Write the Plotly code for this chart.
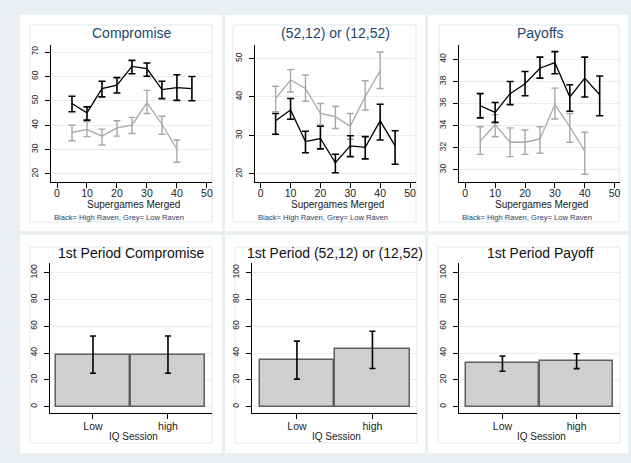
import plotly.graph_objects as go

W, H = 631, 463

# supergame bins
sg_high = [5, 10, 15, 20, 25, 30, 35, 40, 45]
sg_low = [5, 10, 15, 20, 25, 30, 35, 40]

# Compromise
comp_hi_mean = [48.9, 45.1, 55.0, 56.4, 64.1, 63.2, 54.6, 55.4, 55.0]
comp_hi_lo = [45.5, 42.1, 51.6, 53.2, 61.1, 60.1, 50.9, 50.2, 50.0]
comp_hi_up = [51.9, 47.5, 58.0, 59.5, 66.6, 65.5, 58.0, 60.7, 60.0]
comp_lo_mean = [37.0, 38.3, 35.5, 38.9, 40.0, 49.2, 40.4, 30.2]
comp_lo_lo = [33.6, 35.3, 31.9, 35.5, 36.6, 44.8, 36.3, 24.8]
comp_lo_up = [40.0, 41.4, 38.4, 41.8, 43.2, 54.3, 43.7, 33.9]

# (52,12) or (12,52)
spl_hi_mean = [33.8, 36.6, 28.4, 29.2, 22.9, 27.3, 26.9, 33.8, 27.3]
spl_hi_lo = [30.3, 34.2, 25.5, 26.5, 20.3, 24.5, 23.9, 28.8, 22.5]
spl_hi_up = [35.7, 39.6, 31.1, 32.4, 25.1, 29.9, 29.7, 38.1, 31.2]
spl_lo_mean = [39.6, 44.4, 42.2, 35.7, 34.9, 32.4, 40.1, 46.8]
spl_lo_lo = [36.2, 41.3, 38.9, 32.7, 31.8, 29.0, 36.6, 42.2]
spl_lo_up = [42.8, 47.1, 45.7, 38.3, 37.6, 35.7, 44.2, 51.7]

# Payoffs
pay_hi_mean = [35.8, 35.2, 36.9, 37.8, 39.2, 39.7, 36.6, 38.3, 36.8]
pay_hi_lo = [34.7, 34.3, 35.9, 36.7, 38.3, 38.7, 35.3, 36.6, 34.9]
pay_hi_up = [36.9, 36.1, 38.0, 38.9, 40.2, 40.7, 37.7, 40.2, 38.5]
pay_lo_mean = [32.6, 34.1, 32.5, 32.5, 32.8, 35.9, 33.9, 31.7]
pay_lo_lo = [31.4, 33.0, 31.2, 31.4, 31.5, 34.6, 32.5, 29.6]
pay_lo_up = [33.9, 35.0, 33.8, 33.6, 33.9, 37.4, 35.1, 33.4]

# first period bars
iq = ["Low", "high"]
first_comp = [38.6, 38.6]
first_comp_lo = [24.9, 24.9]
first_comp_up = [52.7, 52.7]
first_spl = [34.7, 42.7]
first_spl_lo = [20.6, 28.5]
first_spl_up = [48.9, 56.3]
first_pay = [32.6, 33.8]
first_pay_lo = [26.4, 28.4]
first_pay_up = [37.8, 39.5]

FONT = "Liberation Sans, Arial, sans-serif"
BLUE = "#1a476f"
TXT = "#222222"
GRID = "#e4edef"
BG = "#eaf0f2"


def fx(px):
    return px / W


def fy(py):
    return 1 - py / H


def err(mean, lo, up):
    return dict(type="data", symmetric=False,
                array=[u - m for u, m in zip(up, mean)],
                arrayminus=[m - l for m, l in zip(mean, lo)])


fig = go.Figure()

line_panels = [
    # (axis suffix, hi series, lo series, title, x px, x range, y range, y ticks)
    ("", (comp_hi_mean, comp_hi_lo, comp_hi_up), (comp_lo_mean, comp_lo_lo, comp_lo_up),
     "Compromise", (51, 212), [-2.0, 51.7], [16.7, 72.9], list(range(20, 71, 10))),
    ("2", (spl_hi_mean, spl_hi_lo, spl_hi_up), (spl_lo_mean, spl_lo_lo, spl_lo_up),
     "(52,12) or (12,52)", (255, 416), [-1.9, 52.0], [17.9, 53.5], list(range(20, 51, 10))),
    ("3", (pay_hi_mean, pay_hi_lo, pay_hi_up), (pay_lo_mean, pay_lo_lo, pay_lo_up),
     "Payoffs", (459, 620), [-2.1, 51.8], [28.9, 41.3], list(range(30, 41, 2))),
]

bar_panels = [
    ("4", (first_comp, first_comp_lo, first_comp_up), "1st Period Compromise",
     (50, 212), [-0.573, 1.587]),
    ("5", (first_spl, first_spl_lo, first_spl_up), "1st Period (52,12) or (12,52)",
     (252, 417), [-0.595, 1.59]),
    ("6", (first_pay, first_pay_lo, first_pay_up), "1st Period Payoff",
     (459, 620), [-0.586, 1.585]),
]

annotations = []
shapes = []

# panel backgrounds
cols = [(20, 222), (225, 425), (428, 628)]
rows = [(15, 231), (235, 453)]
for (y0, y1) in rows:
    for (x0, x1) in cols:
        shapes.append(dict(type="rect", xref="paper", yref="paper",
                           x0=fx(x0), x1=fx(x1), y0=fy(y1), y1=fy(y0),
                           fillcolor="white", line=dict(width=0), layer="below"))
inner = [(30, 25, 212, 222), (233, 25, 416, 222), (439, 25, 619, 222),
         (30, 247, 212, 443), (235, 247, 417, 443), (438, 247, 620, 443)]
for (x0, y0, x1, y1) in inner:
    shapes.append(dict(type="rect", xref="paper", yref="paper",
                       x0=fx(x0), x1=fx(x1), y0=fy(y1), y1=fy(y0),
                       fillcolor="rgba(0,0,0,0)", line=dict(width=1, color="#dfe9eb"),
                       layer="below"))

axis_common = dict(showline=True, linecolor="black", linewidth=1.2, ticks="outside",
                   ticklen=5, tickwidth=1, tickcolor="black", zeroline=False,
                   tickfont=dict(family=FONT, size=10.5, color=TXT))
yfont = dict(family=FONT, size=8.5, color=TXT)

for suf, hi, lo, title, (xa, xb), xr, yr, yt in line_panels:
    xname, yname = "x" + suf, "y" + suf
    fig.add_trace(go.Scatter(x=sg_low, y=lo[0], mode="lines", xaxis=xname, yaxis=yname,
                             line=dict(color="#a8a8a8", width=1.3),
                             error_y=dict(err(*lo), color="#a8a8a8", thickness=1.4, width=3.5),
                             showlegend=False))
    fig.add_trace(go.Scatter(x=sg_high, y=hi[0], mode="lines", xaxis=xname, yaxis=yname,
                             line=dict(color="black", width=1.3),
                             error_y=dict(err(*hi), color="black", thickness=1.6, width=3.5),
                             showlegend=False))
    fig.layout["xaxis" + suf] = dict(axis_common, domain=[fx(xa), fx(xb)], range=xr,
                                    anchor=yname, tickvals=[0, 10, 20, 30, 40, 50],
                                    ticklabelstandoff=-4, showgrid=False)
    fig.layout["yaxis" + suf] = dict(axis_common, domain=[fy(182), fy(45)], range=yr,
                                    anchor=xname, tickvals=yt, tickangle=-90,
                                    ticklabelstandoff=4,
                                    showgrid=True, gridcolor=GRID, gridwidth=1,
                                    tickfont=yfont)
    cx = (xa + xb) / 2
    annotations.append(dict(text=title, x=fx(cx), y=fy(33), xref="paper", yref="paper",
                            showarrow=False, xanchor="center", yanchor="middle",
                            font=dict(family=FONT, size=14, color=BLUE)))
    annotations.append(dict(text="Supergames Merged", x=fx(cx + 2), y=fy(204.5),
                            xref="paper", yref="paper", showarrow=False,
                            xanchor="center", yanchor="middle",
                            font=dict(family=FONT, size=10, color=TXT)))
    annotations.append(dict(text="Black= High Raven, Grey= Low Raven", x=fx(xa + 1),
                            y=fy(217.5), xref="paper", yref="paper", showarrow=False,
                            xanchor="left", yanchor="middle",
                            font=dict(family=FONT, size=7.6, color="#2b3a66")))

for suf, (vals, lo, up), title, (xa, xb), xr in bar_panels:
    xname, yname = "x" + suf, "y" + suf
    fig.add_trace(go.Bar(x=[0, 1], y=vals, width=0.985, xaxis=xname, yaxis=yname,
                         marker=dict(color="#cfcfcf", line=dict(color="#5f5f5f", width=1.5)),
                         error_y=dict(err(vals, lo, up), color="black", thickness=1.6, width=3),
                         showlegend=False))
    fig.layout["xaxis" + suf] = dict(axis_common, domain=[fx(xa), fx(xb)], range=xr,
                                    anchor=yname, tickvals=[0, 1], ticktext=iq,
                                    ticklabelstandoff=-2, showgrid=False)
    fig.layout["yaxis" + suf] = dict(axis_common, domain=[fy(413), fy(263)],
                                    range=[-4.7, 107.2], anchor=xname,
                                    tickvals=[0, 20, 40, 60, 80, 100], tickangle=-90,
                                    ticklabelstandoff=4,
                                    showgrid=True, gridcolor=GRID, gridwidth=1,
                                    tickfont=yfont)
    cx = (xa + xb) / 2
    annotations.append(dict(text=title, x=fx(cx), y=fy(253), xref="paper", yref="paper",
                            showarrow=False, xanchor="center", yanchor="middle",
                            font=dict(family=FONT, size=14, color="#111111")))
    annotations.append(dict(text="IQ Session", x=fx(cx + 2), y=fy(436),
                            xref="paper", yref="paper", showarrow=False,
                            xanchor="center", yanchor="middle",
                            font=dict(family=FONT, size=10, color=TXT)))

fig.update_layout(
    width=W, height=H,
    margin=dict(l=0, r=0, t=0, b=0),
    paper_bgcolor=BG,
    plot_bgcolor="rgba(0,0,0,0)",
    annotations=annotations,
    shapes=shapes,
    bargap=0,
)

# drop the default page margin so the figure sits at the window's corner
fig.write_html("out.html", config={"displayModeBar": False},
               post_script="document.body.style.margin='0px';")
